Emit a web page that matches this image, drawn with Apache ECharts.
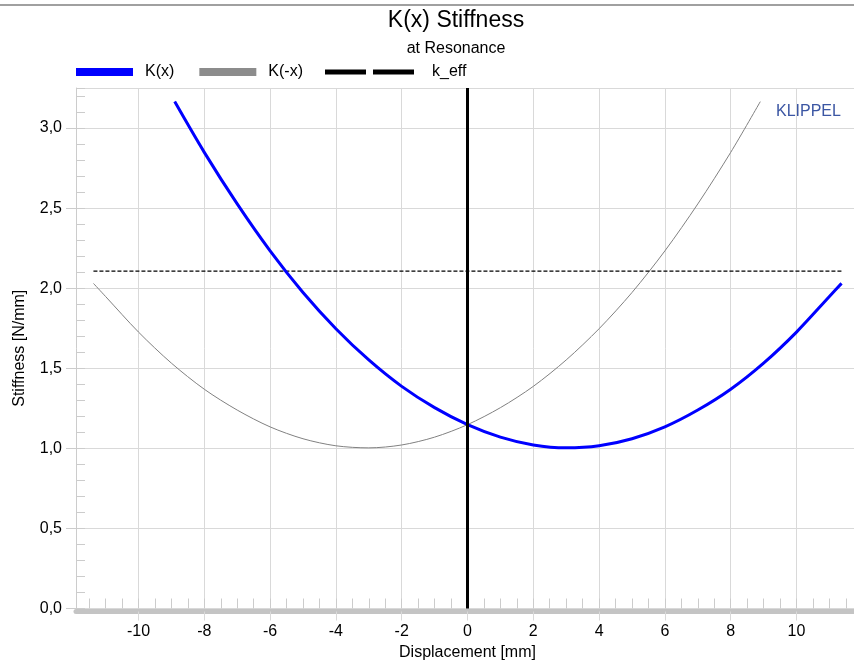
<!DOCTYPE html>
<html>
<head>
<meta charset="utf-8">
<script src="https://cdn.jsdelivr.net/npm/echarts@6.0.0/dist/echarts.min.js"></script>
<style>
  html, body { margin: 0; padding: 0; background: #fff; }
  #chart { width: 854px; height: 661px; }
</style>
</head>
<body>
<div id="chart"></div>
<script>
// K(x) curve
const kxX = [-8.9, -8, -7, -6, -5, -4, -3, -2, -1, 0, 1, 2, 3, 4, 5, 6, 7, 8, 9, 10, 11, 11.37];
const kxY = [3.165, 2.848, 2.526, 2.233, 1.973, 1.747, 1.552, 1.387, 1.254, 1.148, 1.070, 1.021, 1.003, 1.016, 1.060, 1.134, 1.239, 1.369, 1.532, 1.726, 1.948, 2.030];

// K(-x) curve (mirror image)
const kNegX = [-11.37, -11, -10, -9, -8, -7, -6, -5, -4, -3, -2, -1, 0, 1, 2, 3, 4, 5, 6, 7, 8, 8.9];
const kNegY = [2.030, 1.948, 1.726, 1.532, 1.369, 1.239, 1.134, 1.060, 1.016, 1.003, 1.021, 1.070, 1.148, 1.254, 1.387, 1.552, 1.747, 1.973, 2.233, 2.526, 2.848, 3.165];

// effective stiffness
const keffX = [-11.37, 11.37];
const keffY = [2.106, 2.106];

// axis ticks
const xMajorTicks = [-10, -8, -6, -4, -2, 0, 2, 4, 6, 8, 10];
const xMinorTicks = [-11.5, -11, -10.5, -10, -9.5, -9, -8.5, -8, -7.5, -7, -6.5, -6, -5.5, -5, -4.5, -4,
  -3.5, -3, -2.5, -2, -1.5, -1, -0.5, 0, 0.5, 1, 1.5, 2, 2.5, 3, 3.5, 4, 4.5, 5, 5.5, 6, 6.5, 7, 7.5,
  8, 8.5, 9, 9.5, 10, 10.5, 11, 11.5];

const font = 'Liberation Sans, Arial, sans-serif';
const gridColor = '#d9d9d9';

function pairs (xs, ys) {
  return xs.map((x, i) => [x, ys[i]]);
}

const chart = echarts.init(document.getElementById('chart'), null, { renderer: 'canvas' });

const option = {
  animation: false,
  textStyle: { fontFamily: font, color: '#000' },
  title: {
    text: 'K(x) Stiffness',
    subtext: 'at Resonance',
    left: 456,
    top: 9,
    textAlign: 'center',
    padding: 0,
    itemGap: 9,
    textStyle: { fontSize: 23, fontWeight: 'normal', color: '#000', fontFamily: font },
    subtextStyle: { fontSize: 16, color: '#000', fontFamily: font }
  },
  legend: [
    {
      left: 76,
      top: 64,
      padding: 0,
      itemWidth: 57,
      itemHeight: 8,
      itemGap: 25,
      icon: 'rect',
      itemStyle: { borderWidth: 0 },
      textStyle: { fontSize: 16, color: '#000', padding: [0, 0, 0, 7], fontFamily: font },
      data: ['K(x)', 'K(-x)']
    },
    {
      left: 325,
      top: 64,
      padding: 0,
      itemWidth: 89,
      itemHeight: 8,
      icon: 'path://M0,0H41V5H0Z M48,0H89V5H48Z',
      itemStyle: { borderWidth: 0 },
      textStyle: { fontSize: 16, color: '#000', padding: [0, 0, 0, 13], fontFamily: font },
      data: ['k_eff']
    }
  ],
  grid: {
    left: 76,
    right: -5,
    top: 88,
    bottom: 52.5,
    containLabel: false,
    outerBoundsMode: 'none'
  },
  xAxis: [
    {
      type: 'value',
      min: -11.9,
      max: 11.9,
      offset: 3,
      name: 'Displacement [mm]',
      nameLocation: 'middle',
      nameGap: 31,
      nameTextStyle: { fontSize: 16, color: '#000', fontFamily: font },
      axisLine: { show: true, onZero: false, lineStyle: { color: '#c4c4c4', width: 5 } },
      axisTick: {
        show: true,
        inside: false,
        length: 9,
        customValues: xMajorTicks,
        lineStyle: { color: gridColor }
      },
      axisLabel: {
        customValues: xMajorTicks,
        margin: 12,
        fontSize: 16,
        color: '#000',
        fontFamily: font
      },
      splitLine: { show: true, lineStyle: { color: gridColor, width: 1 } }
    },
    {
      type: 'value',
      min: -11.9,
      max: 11.9,
      position: 'bottom',
      axisLine: { show: false, onZero: false },
      axisTick: {
        show: true,
        inside: true,
        length: 10,
        customValues: xMinorTicks,
        lineStyle: { color: '#cccccc' }
      },
      axisLabel: { show: false },
      splitLine: { show: false }
    }
  ],
  yAxis: [
    {
      type: 'value',
      min: 0,
      max: 3.25,
      interval: 0.5,
      name: 'Stiffness [N/mm]',
      nameLocation: 'middle',
      nameGap: 48,
      nameTextStyle: { fontSize: 16, color: '#000', fontFamily: font },
      axisLine: { show: true, onZero: false, lineStyle: { color: '#cccccc', width: 1 } },
      axisTick: { show: true, inside: false, length: 10, lineStyle: { color: '#cccccc' } },
      axisLabel: {
        margin: 14,
        fontSize: 16,
        color: '#000',
        fontFamily: font,
        showMaxLabel: false,
        formatter: v => v.toFixed(1).replace('.', ',')
      },
      splitLine: { show: true, lineStyle: { color: gridColor, width: 1 } }
    },
    {
      type: 'value',
      min: 0,
      max: 3.25,
      interval: 0.1,
      position: 'left',
      axisLine: { show: false, onZero: false },
      axisTick: { show: true, inside: true, length: 9, lineStyle: { color: '#cccccc' } },
      axisLabel: { show: false },
      splitLine: { show: false }
    }
  ],
  series: [
    {
      name: 'K(x)',
      type: 'line',
      smooth: 0.3,
      showSymbol: false,
      color: '#0000ff',
      lineStyle: { color: '#0000ff', width: 3 },
      data: pairs(kxX, kxY),
      z: 4
    },
    {
      name: 'K(-x)',
      type: 'line',
      smooth: 0.3,
      showSymbol: false,
      color: '#8c8c8c',
      lineStyle: { color: '#808080', width: 1 },
      data: pairs(kNegX, kNegY),
      z: 3
    },
    {
      name: 'k_eff',
      type: 'line',
      showSymbol: false,
      color: '#000000',
      lineStyle: { color: '#000000', width: 1.2, type: [4, 2] },
      data: pairs(keffX, keffY),
      z: 3,
      markLine: {
        silent: true,
        symbol: 'none',
        label: { show: false },
        lineStyle: { color: '#000', width: 3, type: 'solid' },
        data: [{ xAxis: 0 }]
      }
    }
  ],
  graphic: [
    {
      type: 'line',
      shape: { x1: 0, y1: 5, x2: 854, y2: 5 },
      style: { stroke: '#a0a0a0', lineWidth: 2 },
      silent: true
    },
    {
      type: 'text',
      left: 776,
      top: 104,
      style: { text: 'KLIPPEL', fontSize: 16, fontFamily: font, fill: '#3b56a3' },
      silent: true
    }
  ]
};

chart.setOption(option);
</script>
</body>
</html>
